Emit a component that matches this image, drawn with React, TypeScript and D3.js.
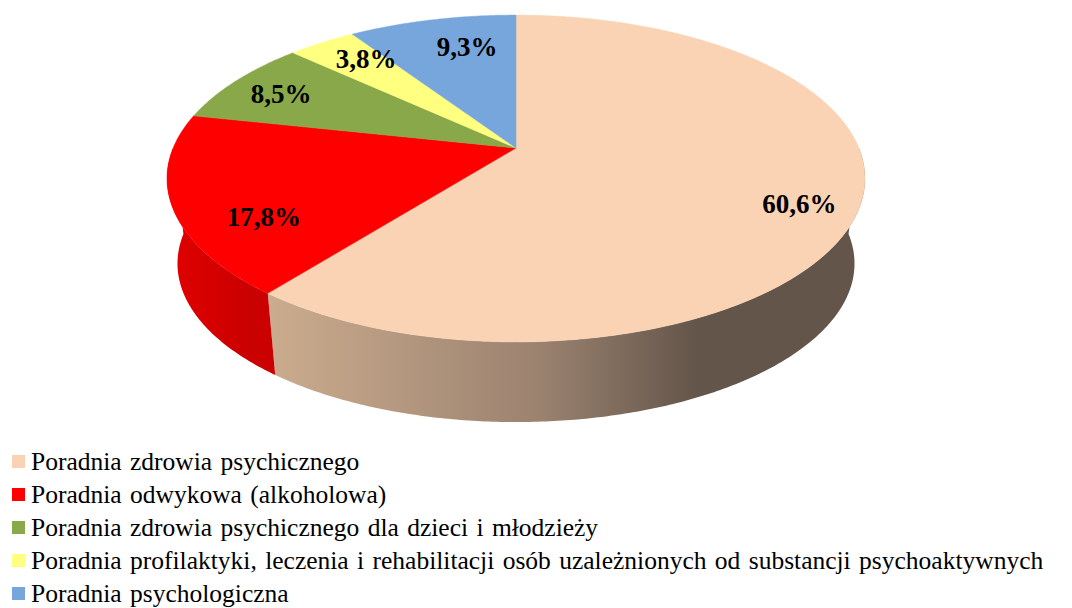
import React from 'react';
import * as d3 from 'd3';

const width = 1072;
const height = 608;

// data
const categories = [
  'Poradnia zdrowia psychicznego',
  'Poradnia odwykowa (alkoholowa)',
  'Poradnia zdrowia psychicznego dla dzieci i młodzieży',
  'Poradnia profilaktyki, leczenia i rehabilitacji osób uzależnionych od substancji psychoaktywnych',
  'Poradnia psychologiczna',
];
const shares = [60.6, 17.8, 8.5, 3.8, 9.3];
const valueLabels = ['60,6%', '17,8%', '8,5%', '3,8%', '9,3%'];

const colors = ['#f9d3b4', '#ff0000', '#88a84a', '#ffff80', '#77a6dd'];
// side gradients [left, mid, right]
const sideColors = [
  ['#cbac8e', '#9c8370', '#63554a'],
  ['#e00000', '#d50000', '#cb0000'],
  ['#708c3a', '#708c3a', '#708c3a'],
  ['#d8d86a', '#d8d86a', '#d8d86a'],
  ['#5f88b8', '#5f88b8', '#5f88b8'],
];
// label placement: radius fraction and vertical shift (Excel's quirky 3D placement)
const labelLayout = [
  [0.83, 11],
  [0.745, 27],
  [0.828, 2],
  [0.748, -8],
  [0.544, -26],
];

// perspective projection of the pie's top face (unit radius)
const cx = 516;
const cy = 148;
const sinA = 0.46;
const cosA = Math.sqrt(1 - sinA * sinA);
const D = 4.76;
const f = 1632;
// bottom rim: top rim shrunk toward the vertex and dropped by the pie thickness
const bottomScale = 0.97;
const thickness = 86;

function project(theta: number, r: number): [number, number] {
  const X = r * Math.sin(theta);
  const Z = r * Math.cos(theta);
  const w = D + Z * cosA;
  return [cx + (f * X) / w, cy - (f * Z * sinA) / w];
}

function projectBottom(theta: number): [number, number] {
  const [x, y] = project(theta, 1);
  return [cx + (x - cx) * bottomScale, cy + (y - cy) * bottomScale + thickness];
}

function sample(a0: number, a1: number) {
  const n = Math.max(2, Math.ceil(Math.abs(a1 - a0) / 0.01));
  return d3.range(n + 1).map(i => a0 + ((a1 - a0) * i) / n);
}

const line = d3.line();

export default function App() {
  const arcs = d3.pie<number>().sort(null).value(d => d)(shares);

  const sides = arcs
    .map((a, i) => {
      const s = Math.max(a.startAngle, Math.PI / 2);
      const e = Math.min(a.endAngle, (3 * Math.PI) / 2);
      if (e <= s) return null;
      const pts = [
        ...sample(s, e).map(t => project(t, 1)),
        ...sample(e, s).map(t => projectBottom(t)),
      ];
      return { i, d: line(pts) + 'Z' };
    })
    .filter(Boolean) as { i: number; d: string }[];

  const tops = arcs.map((a, i) => {
    const pts = [project(0, 0), ...sample(a.startAngle, a.endAngle).map(t => project(t, 1))];
    return { i, d: line(pts) + 'Z' };
  });

  const labels = arcs.map((a, i) => {
    const mid = (a.startAngle + a.endAngle) / 2;
    const [r, dy] = labelLayout[i];
    const [x, y] = project(mid, r);
    return { i, x, y: y + dy };
  });

  return (
    <svg
      width={width}
      height={height}
      style={{ position: 'absolute', left: 0, top: 0, background: '#fff' }}
    >
      <defs>
        {sideColors.map((c, i) => (
          <linearGradient key={i} id={`side${i}`} x1="0" x2="1" y1="0" y2="0">
            <stop offset="0" stopColor={c[0]} />
            <stop offset="0.45" stopColor={c[1]} />
            <stop offset="0.72" stopColor={c[2]} />
            <stop offset="1" stopColor={c[2]} />
          </linearGradient>
        ))}
      </defs>
      <g>
        {sides.map(s => (
          <path key={'s' + s.i} d={s.d} fill={`url(#side${s.i})`} />
        ))}
        {tops.map(t => (
          <path key={'t' + t.i} d={t.d} fill={colors[t.i]} stroke={colors[t.i]} strokeWidth={0.5} />
        ))}
      </g>
      {labels.map(l => (
        <text
          key={l.i}
          x={l.x}
          y={l.y}
          textAnchor="middle"
          dominantBaseline="central"
          fill="#000"
          style={{ fontFamily: 'Liberation Serif', fontWeight: 'bold', fontSize: '27px' }}
        >
          {valueLabels[l.i]}
        </text>
      ))}
      {categories.map((c, i) => (
        <g key={c} transform={`translate(12, ${470 + i * 33})`}>
          <rect x={0} y={-15} width={13} height={13} fill={colors[i]} />
          <text
            x={19}
            y={0}
            fill="#000"
            style={{ fontFamily: 'Liberation Serif', fontSize: '25.5px', wordSpacing: '2px' }}
          >
            {c}
          </text>
        </g>
      ))}
    </svg>
  );
}
